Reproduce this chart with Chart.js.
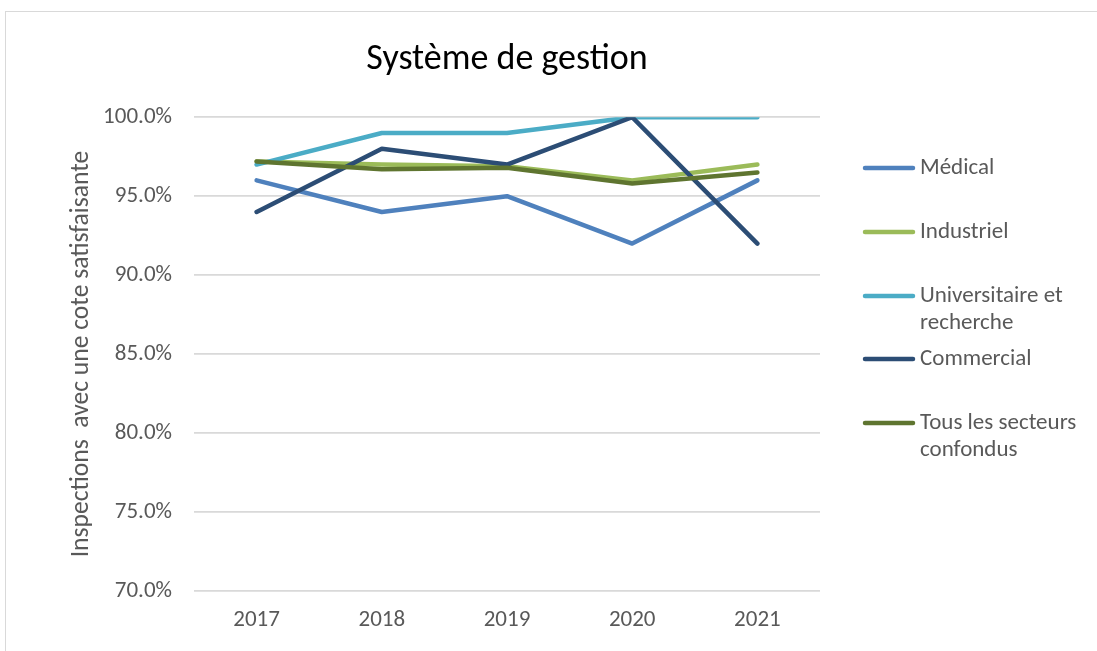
<!DOCTYPE html>
<html>
<head>
<meta charset="utf-8">
<script src="https://cdn.jsdelivr.net/npm/chart.js@4"></script>
<style>
  body { margin: 0; background: #fff; }
  #frame { position: absolute; left: 5px; top: 11px; width: 1200px; height: 800px; border: 1.5px solid #d9d9d9; }
  #wrap { position: absolute; left: 0; top: 0; width: 1097px; height: 651px; }
</style>
</head>
<body>
<div id="frame"></div>
<div id="wrap"><canvas id="myChart"></canvas></div>
<script>
var years = ["2017", "2018", "2019", "2020", "2021"];
var medical = [96, 94, 95, 92, 96];
var industriel = [97.2, 97.0, 96.9, 96.0, 97.0];
var universitaire = [97, 99, 99, 100, 100];
var commercial = [94, 98, 97, 100, 92];
var tous = [97.2, 96.7, 96.8, 95.8, 96.5];

var seriesNames = ["Médical", "Industriel", ["Universitaire et", "recherche"], "Commercial", ["Tous les secteurs", "confondus"]];
var seriesValues = [medical, industriel, universitaire, commercial, tous];
var lineColors = ["#4f81bd", "#9bbb59", "#4bacc6", "#2c4d75", "#5f7530"];

var fontName = "Carlito, 'Open Sans', 'Noto Sans', sans-serif";
var grey = "#595959";

var datasets = seriesValues.map(function (vals, i) {
    return {
        label: seriesNames[i],
        data: vals,
        borderColor: lineColors[i],
        backgroundColor: lineColors[i],
        borderWidth: 4.5,
        borderCapStyle: "round",
        borderJoinStyle: "round",
        pointRadius: 0,
        tension: 0,
        order: seriesValues.length - i
    };
});

// legend drawn by hand so the rows sit where Excel put them
var sideLegend = {
    id: "sideLegend",
    afterDraw: function (chart) {
        var ctx = chart.ctx;
        var rows = [168, 232, 296, 359, 423];
        ctx.save();
        ctx.font = "23px " + fontName;
        ctx.fillStyle = grey;
        ctx.textBaseline = "middle";
        chart.data.datasets.forEach(function (ds, i) {
            var y = rows[i];
            ctx.strokeStyle = ds.borderColor;
            ctx.lineWidth = 4.5;
            ctx.lineCap = "round";
            ctx.beginPath();
            ctx.moveTo(865, y);
            ctx.lineTo(913, y);
            ctx.stroke();
            var lines = [].concat(ds.label);
            lines.forEach(function (t, k) {
                ctx.fillText(t, 920, y + k * 27.5);
            });
        });
        ctx.restore();
    }
};

new Chart("myChart", {
    type: "line",
    data: { labels: years, datasets: datasets },
    plugins: [sideLegend],
    options: {
        responsive: true,
        maintainAspectRatio: false,
        animation: false,
        layout: { padding: { left: 0, right: 277, top: 0, bottom: 0 } },
        plugins: {
            legend: { display: false },
            tooltip: { enabled: false },
            title: {
                display: true,
                text: "Système de gestion",
                fullSize: false,
                color: "#000",
                font: { family: fontName, size: 36, weight: "normal" },
                padding: { top: 38, bottom: 36 }
            }
        },
        scales: {
            x: {
                offset: true,
                grid: { display: false, drawTicks: false },
                border: { display: false },
                ticks: { color: grey, font: { family: fontName, size: 23 }, padding: 15 },
                afterFit: function (s) { s.height = 60; }
            },
            y: {
                min: 70,
                max: 100,
                grid: { color: "#d9d9d9", lineWidth: 1.7, drawTicks: false },
                border: { display: false },
                ticks: {
                    stepSize: 5,
                    color: grey,
                    font: { family: fontName, size: 23 },
                    padding: 22,
                    callback: function (v) { return v.toFixed(1) + "%"; }
                },
                title: {
                    display: true,
                    text: "Inspections  avec une cote satisfaisante",
                    color: grey,
                    font: { family: fontName, size: 25.6 },
                    padding: { top: 66, bottom: 0 }
                },
                afterFit: function (s) { s.width = 194; }
            }
        }
    }
});
</script>
</body>
</html>
